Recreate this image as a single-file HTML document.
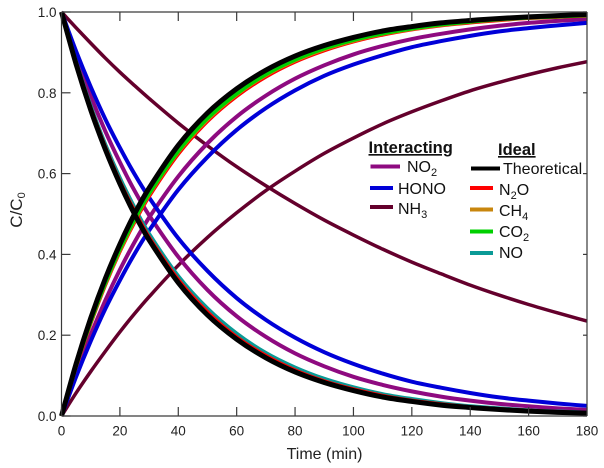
<!DOCTYPE html>
<html lang="en">
<head>
<meta charset="utf-8">
<title>C/C0 versus time</title>
<style>
html,body{margin:0;padding:0;background:#fff;width:604px;height:468px;overflow:hidden}
svg{display:block;font-family:"Liberation Sans",Arial,sans-serif;fill:#222}
.tick{font-size:13.5px}
.leg{font-size:16px;fill:#111}
.head{font-size:16.5px;font-weight:bold;text-decoration:underline;fill:#111}
</style>
</head>
<body>
<svg id="chart" width="604" height="468" viewBox="0 0 604 468" xmlns="http://www.w3.org/2000/svg">
  <g id="curves"></g>
  <g id="axes"></g>
  <text x="324.5" y="459" font-size="16" text-anchor="middle">Time (min)</text>
  <text transform="translate(22 210) rotate(-90)" font-size="17" text-anchor="middle">C/C<tspan font-size="11" dy="3">0</tspan></text>

  <g>
    <text class="head" x="368.5" y="153">Interacting</text>
    <line x1="370.5" x2="400" y1="166.5" y2="166.5" stroke="#8e0a80" stroke-width="4"/>
    <text class="leg" x="407" y="172">NO<tspan font-size="11" dy="4">2</tspan></text>
    <line x1="370" x2="393" y1="188" y2="188" stroke="#0000d8" stroke-width="4"/>
    <text class="leg" x="398" y="194">HONO</text>
    <line x1="370" x2="393" y1="207" y2="207" stroke="#64002c" stroke-width="4"/>
    <text class="leg" x="398" y="214">NH<tspan font-size="11" dy="4">3</tspan></text>
  </g>
  <g>
    <text class="head" x="498" y="155">Ideal</text>
    <line x1="471" x2="500" y1="168.5" y2="168.5" stroke="#000" stroke-width="4"/>
    <text class="leg" x="503" y="174">Theoretical</text>
    <line x1="470" x2="493" y1="188" y2="188" stroke="#ff0000" stroke-width="4"/>
    <text class="leg" x="499" y="195">N<tspan font-size="11" dy="4">2</tspan><tspan dy="-4">O</tspan></text>
    <line x1="470" x2="493" y1="209.5" y2="209.5" stroke="#c8860d" stroke-width="4"/>
    <text class="leg" x="499" y="216">CH<tspan font-size="11" dy="4">4</tspan></text>
    <line x1="470" x2="493" y1="231.5" y2="231.5" stroke="#00d000" stroke-width="4"/>
    <text class="leg" x="499" y="237">CO<tspan font-size="11" dy="4">2</tspan></text>
    <line x1="470" x2="493" y1="253" y2="253" stroke="#0a9a96" stroke-width="4"/>
    <text class="leg" x="499" y="258">NO</text>
  </g>
</svg>
<script>
const timeMin = [0,5,10,15,20,25,30,40,50,60,70,80,90,100,110,120,130,140,150,160,170,180];
const xTicks = [0,20,40,60,80,100,120,140,160,180];
const yTicks = ["0.0","0.2","0.4","0.6","0.8","1.0"];

const theoreticalDecay = [1,.871,.758,.660,.575,.500,.436,.330,.250,.190,.144,.109,.083,.063,.047,.036,.027,.021,.016,.012,.009,.007];
const theoreticalRise = [0,.129,.242,.340,.425,.500,.564,.670,.750,.810,.856,.891,.917,.937,.953,.964,.973,.979,.984,.988,.991,.994];
const n2oDecay = [1,.873,.762,.665,.580,.507,.442,.337,.257,.195,.149,.113,.086,.066,.050,.038,.029,.022,.017,.013,.010,.0075];
const n2oRise = [0,.123,.230,.325,.408,.480,.544,.649,.730,.792,.840,.877,.905,.927,.944,.957,.967,.974,.980,.985,.988,.991];
const ch4Rise = [0,.124,.233,.328,.411,.484,.549,.654,.734,.796,.844,.880,.908,.929,.946,.958,.968,.976,.981,.986,.989,.9915];
const co2Rise = [0,.125,.234,.330,.414,.487,.551,.656,.737,.798,.846,.882,.910,.931,.947,.959,.969,.976,.982,.986,.989,.992];
const noDecay = [1,.876,.767,.672,.589,.516,.451,.346,.266,.204,.156,.120,.092,.071,.054,.042,.032,.024,.019,.014,.011,.0085];
const no2Decay = [1,.890,.792,.705,.628,.558,.497,.394,.312,.247,.196,.155,.123,.097,.077,.061,.048,.038,.030,.024,.019,.015];
const no2Rise = [0,.107,.201,.286,.362,.430,.491,.593,.675,.741,.793,.835,.868,.895,.916,.933,.946,.957,.966,.973,.978,.982];
const honoDecay = [1,.903,.815,.735,.664,.599,.541,.440,.359,.292,.238,.194,.158,.129,.105,.085,.070,.057,.046,.038,.031,.025];
const honoRise = [0,.097,.185,.265,.336,.401,.459,.560,.641,.708,.762,.806,.842,.870,.893,.913,.928,.941,.952,.960,.967,.973];
const nh3Decay = [1,.961,.923,.886,.851,.818,.786,.725,.669,.617,.570,.526,.485,.448,.413,.381,.352,.324,.299,.276,.255,.235];
const nh3Rise = [0,.057,.110,.160,.208,.253,.295,.373,.442,.503,.558,.606,.650,.688,.723,.753,.780,.805,.826,.845,.862,.877];

const NS = "http://www.w3.org/2000/svg";
const X0 = 61.5, X1 = 587, Y0 = 416, Y1 = 12;
function xScale(t){ return X0 + (t - 0) / 180 * (X1 - X0); }
function yScale(v){ return Y0 - (v - 0) / 1 * (Y0 - Y1); }

function curvePath(values){
  const p = values.map(function(v,i){ return [xScale(timeMin[i]), yScale(v)]; });
  let d = "M" + p[0][0].toFixed(2) + " " + p[0][1].toFixed(2);
  for(let i = 0; i < p.length - 1; i++){
    const a = p[Math.max(i-1,0)], b = p[i], c = p[i+1], e = p[Math.min(i+2,p.length-1)];
    const h = c[0] - b[0];
    const m1 = (c[1] - a[1]) / (c[0] - a[0]);
    const m2 = (e[1] - b[1]) / (e[0] - b[0]);
    d += "C" + (b[0]+h/3).toFixed(2) + " " + (b[1]+m1*h/3).toFixed(2) + " "
       + (c[0]-h/3).toFixed(2) + " " + (c[1]-m2*h/3).toFixed(2) + " "
       + c[0].toFixed(2) + " " + c[1].toFixed(2);
  }
  return d;
}

const curvesGroup = document.getElementById("curves");
function drawCurve(values, color, width, name){
  const path = document.createElementNS(NS, "path");
  path.setAttribute("d", curvePath(values));
  path.setAttribute("fill", "none");
  path.setAttribute("stroke", color);
  path.setAttribute("stroke-width", width);
  path.setAttribute("stroke-linejoin", "round");
  
  
  curvesGroup.appendChild(path);
}

drawCurve(nh3Decay, "#64002c", 3.5, "nh3-decay-curve");
drawCurve(nh3Rise, "#64002c", 3.5, "nh3-rise-curve");
drawCurve(no2Decay, "#8e0a80", 4, "no2-decay-curve");
drawCurve(no2Rise, "#8e0a80", 4, "no2-rise-curve");
drawCurve(honoDecay, "#0000d8", 4, "hono-decay-curve");
drawCurve(honoRise, "#0000d8", 4, "hono-rise-curve");
drawCurve(noDecay, "#0a9a96", 4, "no-decay-curve");
drawCurve(n2oDecay, "#ff0000", 4, "n2o-decay-curve");
drawCurve(n2oRise, "#ff0000", 4, "n2o-rise-curve");
drawCurve(ch4Rise, "#c8860d", 4, "ch4-rise-curve");
drawCurve(co2Rise, "#00d000", 4, "co2-rise-curve");
drawCurve(theoreticalDecay, "#000000", 5, "theoretical-decay-curve");
drawCurve(theoreticalRise, "#000000", 5, "theoretical-rise-curve");

const axesGroup = document.getElementById("axes");
function axisLine(x1, y1, x2, y2, name){
  const line = document.createElementNS(NS, "line");
  line.setAttribute("x1", x1);
  line.setAttribute("y1", y1);
  line.setAttribute("x2", x2);
  line.setAttribute("y2", y2);
  line.setAttribute("stroke", "#3a3a3a");
  line.setAttribute("stroke-width", "1.2");
  
  
  axesGroup.appendChild(line);
}
function tickLabel(x, y, anchor, str, name){
  const t = document.createElementNS(NS, "text");
  t.setAttribute("x", x);
  t.setAttribute("y", y);
  t.setAttribute("text-anchor", anchor);
  t.setAttribute("class", "tick");
  
  
  t.textContent = str;
  axesGroup.appendChild(t);
}

axisLine(X0, Y0, X1, Y0, "x-axis-bottom");
axisLine(X0, Y1, X1, Y1, "x-axis-top");
axisLine(X0, Y1, X0, Y0, "y-axis-left");
axisLine(X1, Y1, X1, Y0, "y-axis-right");

xTicks.forEach(function(t){
  const x = xScale(t);
  axisLine(x, Y0, x, Y0 - 9, "x-tick-bottom");
  axisLine(x, Y1, x, Y1 + 9, "x-tick-top");
  tickLabel(x, 435.5, "middle", String(t), "x-tick-label");
});
yTicks.forEach(function(s){
  const y = yScale(parseFloat(s));
  axisLine(X0, y, X0 + 9, y, "y-tick-left");
  axisLine(X1, y, X1 - 4, y, "y-tick-right");
  tickLabel(56.5, y + 5, "end", s, "y-tick-label");
});
</script>
</body>
</html>
